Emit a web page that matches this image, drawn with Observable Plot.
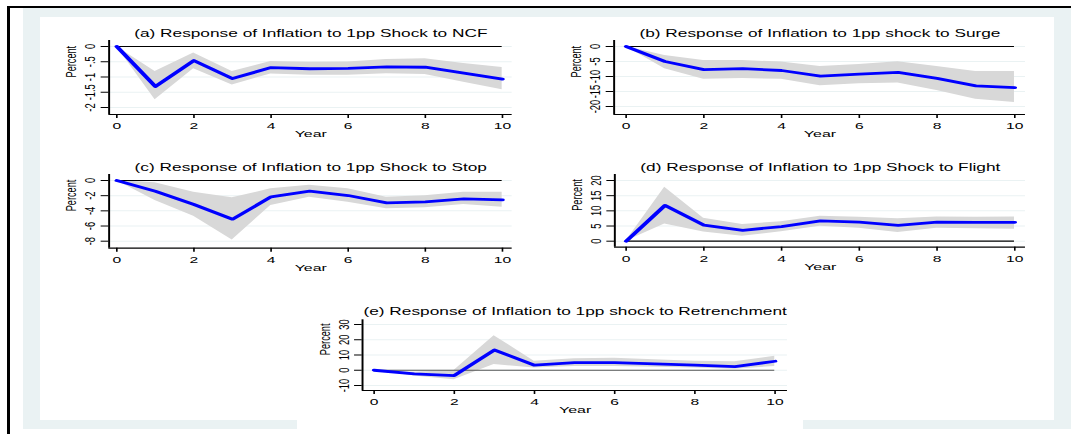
<!DOCTYPE html>
<html>
<head>
<meta charset="utf-8">
<script src="https://cdn.jsdelivr.net/npm/d3@7"></script>
<script src="https://cdn.jsdelivr.net/npm/@observablehq/plot@0.6"></script>
<style>
  html, body { margin: 0; padding: 0; background: #fff; }
  #page { position: relative; width: 1075px; height: 434px; overflow: hidden; background: #fff; }
  .blk { position: absolute; }
  .panel { position: absolute; transform-origin: 0 0; }
  .panel svg { overflow: visible; }
</style>
</head>
<body>
<div id="page"></div>
<script>
// ---------------- data ----------------
const years = [0, 1, 2, 3, 4, 5, 6, 7, 8, 9, 10];
const xTicks = [0, 2, 4, 6, 8, 10];

const titleA = "(a) Response of Inflation to 1pp Shock to NCF";
const irfA = [0, -1.31, -0.46, -1.05, -0.69, -0.73, -0.72, -0.67, -0.68, -0.87, -1.07];
const hiA  = [0, -0.82, -0.21, -0.82, -0.49, -0.52, -0.51, -0.43, -0.40, -0.56, -0.69];
const loA  = [0, -1.75, -0.73, -1.26, -0.90, -0.94, -0.94, -0.89, -0.92, -1.17, -1.42];
const ticksA = [-2, -1.5, -1, -0.5, 0];

const titleB = "(b) Response of Inflation to 1pp shock to Surge";
const irfB = [0, -5.0, -7.7, -7.4, -8.0, -9.9, -9.2, -8.6, -10.6, -13.1, -13.7];
const hiB  = [0, -3.0, -4.7, -4.7, -5.2, -6.7, -6.0, -5.1, -6.7, -8.3, -8.3];
const loB  = [0, -7.4, -10.9, -10.7, -10.9, -13.1, -12.4, -12.2, -14.7, -17.6, -18.7];
const ticksB = [-20, -15, -10, -5, 0];

const titleC = "(c) Response of Inflation to 1pp Shock to Stop";
const irfC = [0, -1.41, -3.17, -5.1, -2.15, -1.41, -1.98, -2.95, -2.81, -2.42, -2.55];
const hiC  = [0, -0.3, -1.54, -2.29, -1.1, -0.62, -1.1, -2.2, -2.02, -1.54, -1.54];
const loC  = [0, -2.64, -4.7, -7.83, -3.3, -2.2, -2.86, -3.74, -3.6, -3.17, -3.52];
const ticksC = [-8, -6, -4, -2, 0];

const titleD = "(d) Response of Inflation to 1pp Shock to Flight";
const irfD = [0, 11.8, 5.3, 3.6, 4.8, 6.7, 6.3, 5.2, 6.3, 6.2, 6.2];
const hiD  = [0, 17.8, 7.6, 5.5, 6.4, 8.2, 7.9, 7.4, 8.0, 7.9, 8.0];
const loD  = [0, 5.7, 3.0, 1.6, 3.1, 4.9, 4.3, 2.9, 4.3, 4.1, 3.9];
const ticksD = [0, 5, 10, 15, 20];

const titleE = "(e) Response of Inflation to 1pp shock to Retrenchment";
const irfE = [0, -2.4, -3.5, 13.3, 3.3, 5.0, 5.0, 4.2, 3.3, 2.4, 5.9];
const hiE  = [0, -1.3, -0.2, 22.7, 5.9, 7.6, 7.9, 6.8, 5.9, 5.5, 9.2];
const loE  = [0, -3.7, -6.3, 3.7, 1.5, 2.4, 2.4, 2.0, 1.5, 0.7, 2.4];
const ticksE = [-10, 0, 10, 20, 30];

const yLabel = "Percent";
const xLabel = "Year";

// ---------------- layout ----------------
const S = 1.63; // horizontal stretch of the original picture
const page = document.getElementById("page");
const FONT = "'Liberation Sans', Arial, Helvetica, sans-serif";

function block(l, t, w, h, color) {
  const d = document.createElement("div");
  d.className = "blk";
  Object.assign(d.style, {left: l + "px", top: t + "px", width: w + "px", height: h + "px", background: color});
  page.appendChild(d);
}
block(23, 8, 1048, 421, "#eaf2f3");
block(40, 17, 1014, 403, "#ffffff");
block(297, 400, 506, 34, "#ffffff");
block(7, 6, 1064, 2, "#000");
block(7, 6, 2.5, 428, "#000");

const fmt = d => String(d).replace(/^(-?)0\./, "$1.");

function panel(cfg) {
  const {box, L, R, T, B, x0, x10, yTopPx, yBotPx, domain, ticks, title, titleDy, irf, lo, hi, zeroColor} = cfg;
  const W = (box[1] - box[0]) / S, H = box[3] - box[2];
  const data = years.map((t, i) => ({year: t, irf: irf[i], lo: lo[i], hi: hi[i]}));
  const iL = (x0 - L) / S, iR = (R - x10) / S, iT = yTopPx - T, iB = B - yBotPx;
  const svg = Plot.plot({
    width: W, height: H,
    marginLeft: (L - box[0]) / S, marginRight: (box[1] - R) / S,
    marginTop: T - box[2], marginBottom: box[3] - B,
    x: {domain: d3.extent(years), insetLeft: iL, insetRight: iR},
    y: {domain, insetTop: iT, insetBottom: iB},
    style: {fontFamily: FONT, background: "transparent", color: "#000"},
    marks: [
      Plot.ruleY(ticks, {stroke: "#eaf2f3", strokeWidth: 1}),
      Plot.areaY(data, {x: "year", y1: "lo", y2: "hi", fill: "#d8d8d8"}),
      Plot.ruleY([0], {x1: d3.min(years), x2: d3.max(years), stroke: zeroColor, strokeWidth: 1.2}),
      Plot.lineY(data, {x: "year", y: "irf", stroke: "#0000ff", strokeWidth: 2.8}),
      Plot.ruleX([d3.min(years)], {dx: -iL, stroke: "#000", strokeWidth: 1.2}),
      Plot.ruleY([domain[0]], {dy: iB, stroke: "#000", strokeWidth: 1.2}),
      Plot.axisY({ticks, tickSize: 4.7, tickFormat: () => "", label: null}),
      Plot.text(ticks, {y: d => d, text: fmt, frameAnchor: "left", rotate: -90, textAnchor: "middle",
        lineAnchor: "bottom", dx: -8.4, fontSize: 9.4}),
      Plot.axisX({ticks: xTicks, tickSize: 4, tickPadding: 3.5, fontSize: 9.6, label: null}),
      Plot.text([xLabel], {frameAnchor: "bottom", lineAnchor: "top", dy: 16, fontSize: 9.8}),
      Plot.text([yLabel], {frameAnchor: "left", rotate: -90, lineAnchor: "bottom", dx: -20.2, fontSize: 9.2}),
      Plot.text([title], {frameAnchor: "top", lineAnchor: "bottom", dy: titleDy, fontSize: 10.6})
    ]
  });
  const wrap = document.createElement("div");
  wrap.className = "panel";
  Object.assign(wrap.style, {left: box[0] + "px", top: box[2] + "px", transform: `scaleX(${S})`});
  wrap.appendChild(svg);
  page.appendChild(wrap);
}

panel({box: [45, 530, 18, 142], L: 108.3, R: 511.7, T: 40, B: 114, x0: 116, x10: 501.7,
  yTopPx: 46, yBotPx: 107, domain: [-2, 0], ticks: ticksA, title: titleA, titleDy: -3.7,
  irf: irfA, lo: loA, hi: hiA, zeroColor: "#000"});
panel({box: [545, 1050, 18, 142], L: 613.3, R: 1025, T: 40, B: 114, x0: 625.3, x10: 1014,
  yTopPx: 46, yBotPx: 106, domain: [-20, 0], ticks: ticksB, title: titleB, titleDy: -3.7,
  irf: irfB, lo: loB, hi: hiB, zeroColor: "#000"});
panel({box: [45, 530, 150, 276], L: 108.3, R: 511.7, T: 174, B: 247.7, x0: 116, x10: 501.7,
  yTopPx: 180, yBotPx: 240.7, domain: [-8, 0], ticks: ticksC, title: titleC, titleDy: -3,
  irf: irfC, lo: loC, hi: hiC, zeroColor: "#000"});
panel({box: [545, 1050, 150, 276], L: 614, R: 1025, T: 174, B: 246.7, x0: 625.3, x10: 1014,
  yTopPx: 180, yBotPx: 240.7, domain: [0, 20], ticks: ticksD, title: titleD, titleDy: -3.3,
  irf: irfD, lo: loD, hi: hiD, zeroColor: "#000"});
panel({box: [300, 800, 295, 420], L: 361.7, R: 787, T: 319.3, B: 390, x0: 373.3, x10: 774.3,
  yTopPx: 324, yBotPx: 385, domain: [-10, 30], ticks: ticksE, title: titleE, titleDy: -4.3,
  irf: irfE, lo: loE, hi: hiE, zeroColor: "#555"});
</script>
</body>
</html>
